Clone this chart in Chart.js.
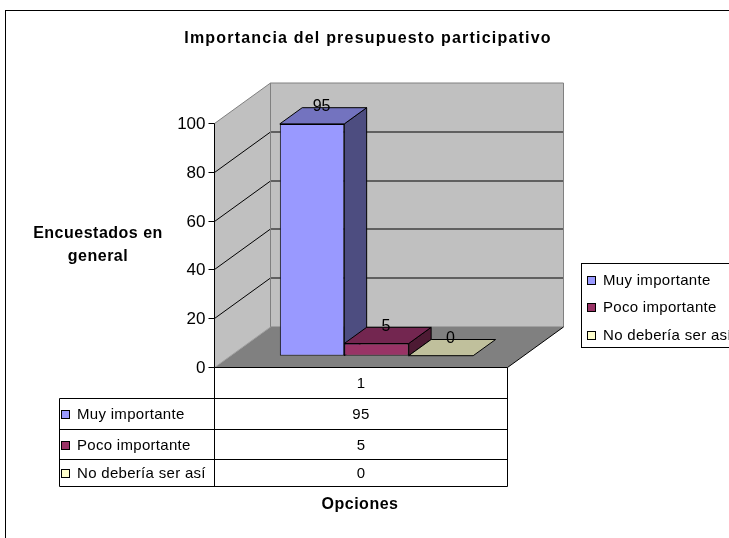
<!DOCTYPE html>
<html>
<head>
<meta charset="utf-8">
<script src="https://cdn.jsdelivr.net/npm/chart.js@4.4.0/dist/chart.umd.min.js"></script>
<style>
  html, body { margin: 0; padding: 0; background: #fff; }
  canvas { display: block; }
</style>
</head>
<body>
<canvas id="chart" width="729" height="538"></canvas>
<script>
// Data
const categories = ['1'];
const seriesNames = ['Muy importante', 'Poco importante', 'No debería ser así'];
const muyImportante = [95];
const pocoImportante = [5];
const noDeberiaSerAsi = [0];
const yTicks = [0, 20, 40, 60, 80, 100];

const chartTitle = 'Importancia del presupuesto participativo';
const yTitle = ['Encuestados en', 'general'];
const xTitle = 'Opciones';

// Colours (front, top, side faces)
const frontColors = ['#9999FF', '#993366', '#FFFFCC'];
const topColors = ['#7373BF', '#732650', '#C0C09C'];
const sideColors = ['#4D4D80', '#4D1A33', '#80806A'];

const FONT = '"Liberation Sans", Arial, sans-serif';

// 3D geometry: full depth of the floor, position of the bar plane and bar depth
const DEPTH = { x: 56, y: -40.5 };
const FRONT = 0.28;
const BAR_DEPTH = 0.4;

function poly(ctx, pts, fill, stroke) {
  ctx.beginPath();
  ctx.moveTo(pts[0][0], pts[0][1]);
  for (let i = 1; i < pts.length; i++) ctx.lineTo(pts[i][0], pts[i][1]);
  ctx.closePath();
  if (fill) { ctx.fillStyle = fill; ctx.fill(); }
  if (stroke) { ctx.strokeStyle = stroke; ctx.lineWidth = 1; ctx.stroke(); }
}

function line(ctx, pts, color) {
  ctx.beginPath();
  ctx.moveTo(pts[0][0], pts[0][1]);
  for (let i = 1; i < pts.length; i++) ctx.lineTo(pts[i][0], pts[i][1]);
  ctx.strokeStyle = color;
  ctx.lineWidth = 1;
  ctx.stroke();
}

// front plane helpers (the chart area is the bar plane)
function frontGeom(chart) {
  const area = chart.chartArea;
  const y = chart.scales.y;
  const ox = FRONT * DEPTH.x, oy = FRONT * DEPTH.y;
  return {
    x0: Math.round(area.left - ox) + 0.5,
    x1: Math.round(area.right - ox) + 0.5,
    yF: (v) => Math.round(y.getPixelForValue(v) - oy) + 0.5
  };
}

const threeD = {
  id: 'threeD',
  beforeDraw(chart) {
    const ctx = chart.ctx;
    ctx.save();
    ctx.fillStyle = '#fff';
    ctx.fillRect(0, 0, chart.width, chart.height);
    ctx.restore();
  },
  beforeDatasetsDraw(chart) {
    const ctx = chart.ctx;
    const { x0, x1, yF } = frontGeom(chart);
    const dx = DEPTH.x, dy = DEPTH.y;
    const yTop = yF(100), yBot = yF(0);
    ctx.save();

    // left wall, back wall, floor
    poly(ctx, [[x0, yTop], [x0 + dx, yTop + dy], [x0 + dx, yBot + dy], [x0, yBot]], '#C0C0C0');
    poly(ctx, [[x0 + dx, yTop + dy], [x1 + dx, yTop + dy], [x1 + dx, yBot + dy], [x0 + dx, yBot + dy]], '#C0C0C0');
    poly(ctx, [[x0, yBot], [x1, yBot], [x1 + dx, yBot + dy], [x0 + dx, yBot + dy]], '#808080');

    // gridlines
    yTicks.forEach((v) => {
      if (v === 0 || v === 100) return;
      const yy = yF(v);
      line(ctx, [[x0, yy], [x0 + dx, yy + dy], [x1 + dx, yy + dy]], '#000');
    });

    // wall edges
    line(ctx, [[x0, yTop], [x0 + dx, yTop + dy], [x1 + dx, yTop + dy], [x1 + dx, yBot + dy]], '#808080');
    line(ctx, [[x0 + dx, yTop + dy], [x0 + dx, yBot + dy], [x1 + dx, yBot + dy]], '#808080');
    line(ctx, [[x0, yBot], [x0 + dx, yBot + dy]], '#A0A0A0');
    line(ctx, [[x1, yBot], [x1 + dx, yBot + dy]], '#000');

    // front value axis
    line(ctx, [[x0, yTop], [x0, yBot]], '#000');
    ctx.font = '17px ' + FONT;
    ctx.fillStyle = '#000';
    ctx.textAlign = 'right';
    ctx.textBaseline = 'middle';
    yTicks.forEach((v) => {
      const yy = yF(v);
      line(ctx, [[x0 - 6, yy], [x0, yy]], '#000');
      ctx.fillText(String(v), x0 - 9, yy + 1);
    });

    // depth faces of the bars, left to right
    const bdx = BAR_DEPTH * DEPTH.x, bdy = BAR_DEPTH * DEPTH.y;
    chart.data.datasets.forEach((ds, i) => {
      const el = chart.getDatasetMeta(i).data[0];
      if (!el) return;
      const p = el.getProps(['x', 'y', 'base', 'width'], true);
      const l = p.x - p.width / 2, r = p.x + p.width / 2;
      if (p.base - p.y > 0.5) {
        poly(ctx, [[r, p.y], [r + bdx, p.y + bdy], [r + bdx, p.base + bdy], [r, p.base]], sideColors[i], '#000');
      }
      poly(ctx, [[l, p.y], [r, p.y], [r + bdx, p.y + bdy], [l + bdx, p.y + bdy]], topColors[i], '#000');
    });
    ctx.restore();
  },
  afterDatasetsDraw(chart) {
    const ctx = chart.ctx;
    const bdy = BAR_DEPTH * DEPTH.y;
    ctx.save();
    ctx.font = '16px ' + FONT;
    ctx.fillStyle = '#000';
    ctx.textAlign = 'center';
    ctx.textBaseline = 'middle';
    chart.data.datasets.forEach((ds, i) => {
      const el = chart.getDatasetMeta(i).data[0];
      const p = el.getProps(['x', 'y'], true);
      ctx.fillText(String(ds.data[0]), p.x + 9.5, p.y + bdy - 1);
    });
    ctx.restore();
  },
  afterDraw(chart) {
    const ctx = chart.ctx;
    const { x0, x1, yF } = frontGeom(chart);
    const yBot = yF(0);
    ctx.save();

    // outer border
    ctx.strokeStyle = '#000';
    ctx.lineWidth = 1;
    ctx.strokeRect(5.5, 10.5, 800, 600);

    // title
    ctx.fillStyle = '#000';
    ctx.textAlign = 'center';
    ctx.textBaseline = 'middle';
    ctx.font = 'bold 16px ' + FONT;
    ctx.letterSpacing = '1.2px';
    ctx.fillText(chartTitle, 368, 39);

    // axis titles
    ctx.letterSpacing = '0.5px';
    ctx.fillText(yTitle[0], 98, 234);
    ctx.fillText(yTitle[1], 98, 257);
    ctx.fillText(xTitle, 360, 505);

    // data table
    const tl = 59.5;
    const rows = [yBot, yBot + 31, yBot + 62, yBot + 92, yBot + 119];
    line(ctx, [[x0, rows[0]], [x1, rows[0]]], '#000');
    for (let k = 1; k < rows.length; k++) line(ctx, [[tl, rows[k]], [x1, rows[k]]], '#000');
    line(ctx, [[tl, rows[1]], [tl, rows[4]]], '#000');
    line(ctx, [[x0, rows[0]], [x0, rows[4]]], '#000');
    line(ctx, [[x1, rows[0]], [x1, rows[4]]], '#000');

    ctx.font = '15px ' + FONT;
    ctx.letterSpacing = '0.3px';
    const cx = (x0 + x1) / 2;
    ctx.textAlign = 'center';
    ctx.fillText(categories[0], cx, (rows[0] + rows[1]) / 2 + 1);
    const values = [muyImportante, pocoImportante, noDeberiaSerAsi];
    for (let k = 0; k < 3; k++) {
      const my = (rows[k + 1] + rows[k + 2]) / 2 + 1;
      ctx.textAlign = 'center';
      ctx.fillText(String(values[k][0]), cx, my);
      ctx.fillStyle = frontColors[k];
      ctx.fillRect(61.5, Math.round(my) - 4.5, 8, 8);
      ctx.strokeRect(61.5, Math.round(my) - 4.5, 8, 8);
      ctx.fillStyle = '#000';
      ctx.textAlign = 'left';
      ctx.fillText(seriesNames[k], 77, my);
    }

    // legend
    ctx.strokeRect(581.5, 263.5, 200, 84);
    const ly = [280.5, 308, 335.5];
    for (let k = 0; k < 3; k++) {
      ctx.fillStyle = frontColors[k];
      ctx.fillRect(587.5, Math.round(ly[k]) - 4.5, 8, 8);
      ctx.strokeRect(587.5, Math.round(ly[k]) - 4.5, 8, 8);
      ctx.fillStyle = '#000';
      ctx.textAlign = 'left';
      ctx.fillText(seriesNames[k], 603, ly[k]);
    }
    ctx.restore();
  }
};

const seriesData = [muyImportante, pocoImportante, noDeberiaSerAsi];

new Chart(document.getElementById('chart'), {
  type: 'bar',
  data: {
    labels: categories,
    datasets: seriesNames.map((name, i) => ({
      label: name,
      data: seriesData[i],
      backgroundColor: frontColors[i],
      borderColor: '#000',
      borderWidth: 1,
      borderSkipped: false,
      barPercentage: 1,
      categoryPercentage: 0.66
    }))
  },
  options: {
    responsive: false,
    animation: false,
    layout: {
      padding: { left: 230, right: 206, top: 111.7, bottom: 182.3 }
    },
    plugins: {
      legend: { display: false },
      title: { display: false },
      tooltip: { enabled: false }
    },
    scales: {
      x: { display: false },
      y: { display: false, min: 0, max: 100 }
    }
  },
  plugins: [threeD]
});
</script>
</body>
</html>
